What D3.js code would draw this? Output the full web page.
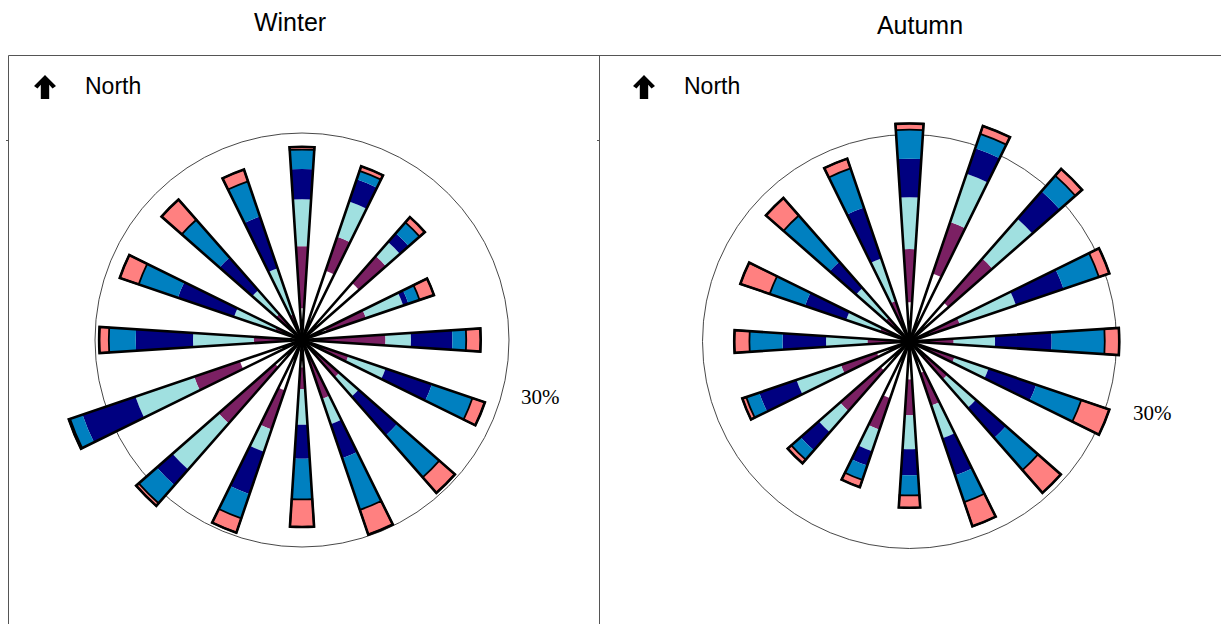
<!DOCTYPE html>
<html>
<head>
<meta charset="utf-8">
<script src="https://cdn.jsdelivr.net/npm/d3@7/dist/d3.min.js"></script>
<style>
  body { margin: 0; background: #fff; }
  svg { display: block; }
</style>
</head>
<body>
<svg id="chart" width="1221" height="624"></svg>
<script>
// Directions, clockwise from north
const directions = ["N", "NNE", "NE", "ENE", "E", "ESE", "SE", "SSE",
                    "S", "SSW", "SW", "WSW", "W", "WNW", "NW", "NNW"];

// Speed classes, innermost first
const speedClasses = ["class1", "class2", "class3", "class4", "class5", "class6"];
const classColors = ["#ffffff", "#7b2063", "#a0e0e0", "#000080", "#0080c0", "#ff8080"];

// Frequency (%) of each speed class per direction
const winterValues = [
  [4.6, 9.0, 6.8, 4.4, 2.8, 0.4],   // N
  [10.6, 5.2, 5.4, 3.4, 1.3, 0.7],  // NNE
  [11.0, 5.2, 2.7, 1.7, 2.1, 1.0],  // NE
  [3.8, 6.0, 5.7, 0.8, 1.7, 2.2],   // ENE
  [2.8, 9.3, 3.7, 6.0, 2.0, 2.1],   // E
  [1.3, 5.8, 5.7, 7.1, 6.2, 1.9],   // ESE
  [1.7, 5.5, 3.7, 7.5, 8.1, 3.0],   // SE
  [3.0, 6.0, 3.9, 5.2, 7.9, 3.8],   // SSE
  [4.0, 3.1, 5.2, 4.9, 5.9, 4.0],   // S
  [7.7, 6.0, 3.4, 6.5, 3.7, 2.2],   // SSW
  [5.2, 10.9, 8.9, 3.0, 3.5, 0.5],  // SW
  [9.5, 7.0, 9.0, 8.1, 1.9, 0.2],   // WSW
  [1.3, 5.7, 8.8, 8.3, 3.9, 1.4],   // W
  [1.0, 3.1, 6.3, 8.6, 6.0, 2.9],   // WNW
  [1.5, 3.5, 4.6, 6.3, 7.3, 3.9],   // NW
  [2.0, 1.9, 7.1, 7.9, 5.4, 1.8]    // NNW
];

const autumnValues = [
  [5.7, 7.7, 7.5, 5.6, 4.2, 0.9],   // N
  [10.4, 7.9, 7.4, 3.9, 2.2, 1.2],  // NNE
  [7.5, 8.5, 7.7, 5.3, 3.0, 1.3],   // NE
  [3.2, 4.5, 8.6, 7.3, 5.4, 1.6],   // ENE
  [2.1, 4.3, 6.0, 8.2, 7.7, 2.1],   // E
  [2.2, 4.7, 5.2, 7.3, 6.9, 4.3],   // ESE
  [2.2, 5.1, 5.5, 5.8, 6.2, 4.4],   // SE
  [4.8, 5.0, 5.0, 5.7, 4.1, 3.7],   // SSE
  [5.5, 5.2, 4.9, 3.8, 2.9, 1.8],   // S
  [8.7, 4.8, 3.3, 2.2, 2.2, 1.1],   // SSW
  [5.6, 7.8, 4.1, 3.5, 1.8, 0.7],   // SW
  [5.0, 5.5, 6.8, 5.7, 2.0, 0.6],   // WSW
  [1.8, 4.3, 6.0, 6.3, 4.8, 2.2],   // W
  [1.5, 3.0, 5.2, 6.3, 5.4, 4.5],   // WNW
  [1.5, 3.1, 5.7, 5.1, 8.9, 3.4],   // NW
  [2.0, 4.2, 6.5, 7.8, 6.0, 1.5]    // NNW
];

const ringValue = 30;   // reference circle, %

const svg = d3.select("#chart");

// panel frame lines
svg.append("line").attr("x1", 8.5).attr("x2", 1221).attr("y1", 55.5).attr("y2", 55.5)
  .attr("stroke", "#555").attr("stroke-width", 1);
svg.append("line").attr("x1", 8.5).attr("x2", 8.5).attr("y1", 55.5).attr("y2", 624)
  .attr("stroke", "#555").attr("stroke-width", 1);
svg.append("line").attr("x1", 599.5).attr("x2", 599.5).attr("y1", 55.5).attr("y2", 624)
  .attr("stroke", "#555").attr("stroke-width", 1);
// tiny tick marks on the frame
svg.append("line").attr("x1", 6).attr("x2", 8.5).attr("y1", 140.5).attr("y2", 140.5)
  .attr("stroke", "#555");
svg.append("line").attr("x1", 597).attr("x2", 599.5).attr("y1", 140.5).attr("y2", 140.5)
  .attr("stroke", "#555");

const radius = d3.scaleLinear().domain([0, ringValue]).range([0, 207]);
const angle = d3.scaleBand().domain(directions).range([0, 2 * Math.PI]);
const halfWidth = 3.7 * Math.PI / 180;

const arc = d3.arc()
  .innerRadius(d => radius(d.y0))
  .outerRadius(d => radius(d.y1))
  .startAngle(d => angle(d.dir) - halfWidth)
  .endAngle(d => angle(d.dir) + halfWidth);

function drawPanel(opts) {
  svg.append("text")
    .attr("x", opts.titleX).attr("y", opts.titleY)
    .attr("text-anchor", "middle")
    .style("font-family", "Liberation Sans, Arial, sans-serif")
    .style("font-size", "25px")
    .text(opts.title);

  // north arrow and label
  svg.append("path")
    .attr("transform", `translate(${opts.arrowX},75)`)
    .attr("d", "M0,0 L11,11 L7.5,13.5 L4.2,9.8 L4.2,24 L-4.2,24 L-4.2,9.8 L-7.5,13.5 L-11,11 Z")
    .attr("fill", "#000");
  svg.append("text")
    .attr("x", opts.arrowX + 40).attr("y", 94)
    .style("font-family", "Liberation Sans, Arial, sans-serif")
    .style("font-size", "23px")
    .text("North");

  const g = svg.append("g").attr("transform", `translate(${opts.cx},${opts.cy})`);

  g.append("circle")
    .attr("r", radius(ringValue))
    .attr("fill", "none")
    .attr("stroke", "#333")
    .attr("stroke-width", 0.9);

  // stacked segments
  const segs = [];
  const totals = [];
  opts.values.forEach((row, i) => {
    let acc = 0;
    row.forEach((v, k) => {
      segs.push({ dir: directions[i], k: k, y0: acc, y1: acc + v });
      acc += v;
    });
    totals.push({ dir: directions[i], y0: 0, y1: acc });
  });

  g.selectAll("path.seg")
    .data(segs.filter(d => d.k < speedClasses.length - 1))
    .enter().append("path")
    .attr("class", "seg")
    .attr("d", arc)
    .attr("fill", d => classColors[d.k]);

  g.selectAll("path.top")
    .data(segs.filter(d => d.k === speedClasses.length - 1))
    .enter().append("path")
    .attr("class", "top")
    .attr("d", arc)
    .attr("fill", d => classColors[d.k])
    .attr("stroke", "#000")
    .attr("stroke-width", 1.8);

  g.selectAll("path.outline")
    .data(totals)
    .enter().append("path")
    .attr("class", "outline")
    .attr("d", arc)
    .attr("fill", "none")
    .attr("stroke", "#000")
    .attr("stroke-width", 2.6)
    .attr("stroke-linejoin", "miter");

  svg.append("text")
    .attr("x", opts.labelX).attr("y", opts.labelY)
    .style("font-family", "Liberation Serif, Times New Roman, serif")
    .style("font-size", "21px")
    .text(ringValue + "%");
}

drawPanel({ title: "Winter", titleX: 290, titleY: 31, arrowX: 45,
            cx: 302, cy: 340, values: winterValues, labelX: 521, labelY: 404 });
drawPanel({ title: "Autumn", titleX: 920, titleY: 34, arrowX: 644,
            cx: 909.5, cy: 341.5, values: autumnValues, labelX: 1133, labelY: 420 });
</script>
</body>
</html>
